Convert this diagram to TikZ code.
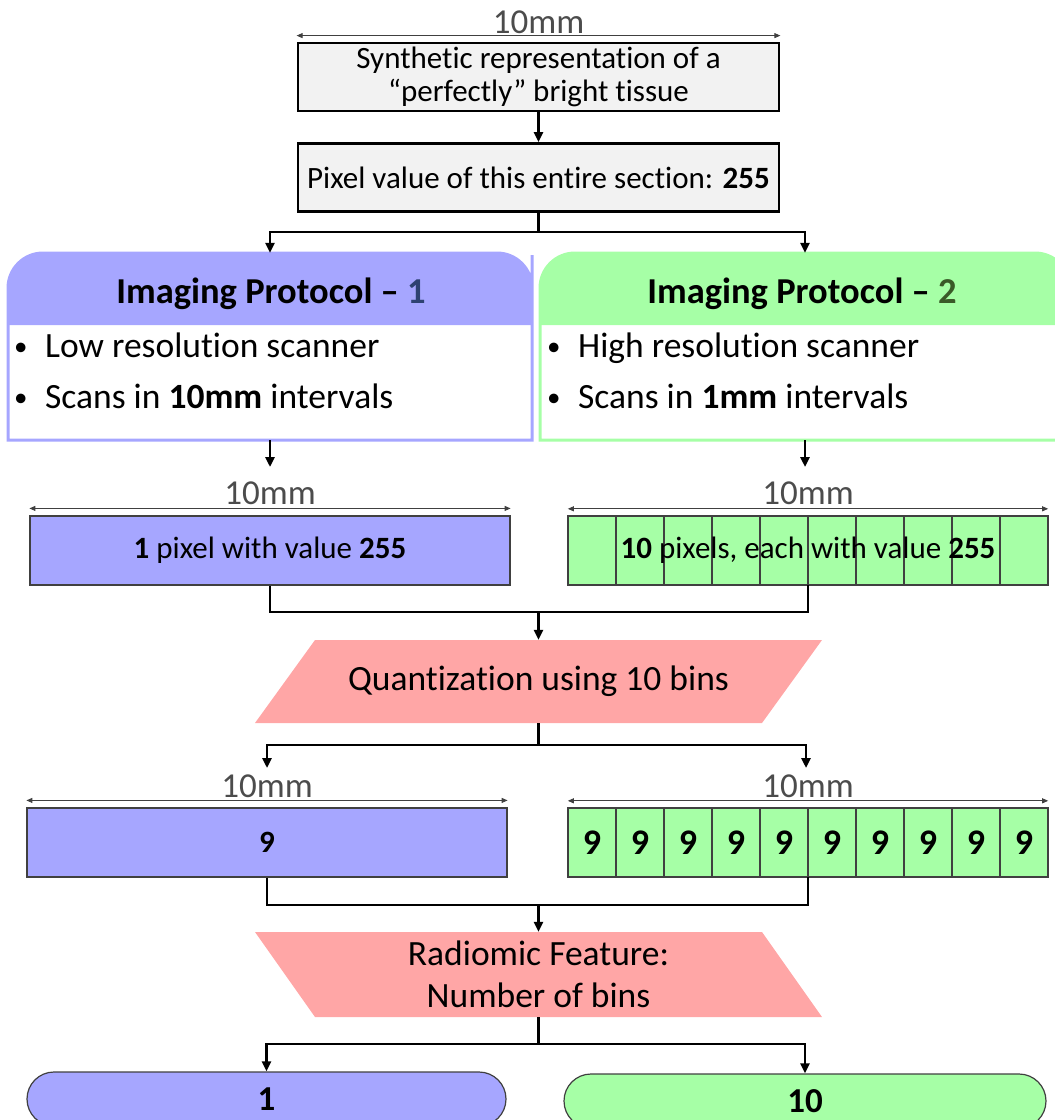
\documentclass[tikz,border=0pt]{standalone}
\usepackage{fontspec}
\setmainfont{Carlito}[Ligatures=NoCommon]
\usetikzlibrary{arrows.meta,calc}
\definecolor{lav}{HTML}{A6A6FF}
\definecolor{grn}{HTML}{A6FFA6}
\definecolor{pnk}{HTML}{FFA6A6}
\definecolor{paper}{HTML}{F2F2F2}
\definecolor{navy}{HTML}{2E4272}
\definecolor{leaf}{HTML}{3A5A28}
\newcommand\fsz[2]{\fontsize{#1}{#2}\selectfont}
\newcommand\dotmark{\makebox[31pt][l]{\raisebox{2pt}{\fsz{27}{27}•}}}

\begin{document}
\begin{tikzpicture}[x=1pt,y=-1pt,
  conn/.style={line width=2.6pt, -{Triangle[length=10pt,width=9pt]}},
  link/.style={line width=2.6pt},
  dimline/.style={line width=0.9pt, draw=black!75,
    {Triangle[length=6pt,width=5pt]}-{Triangle[length=6pt,width=5pt]}},
  dimtext/.style={font=\fsz{35}{38}, text=black!70, inner sep=0pt, anchor=base},
  graybox/.style={draw=black, line width=2.8pt, fill=paper, minimum width=481,
    minimum height=68, inner sep=0pt, align=center, font=\fsz{31}{33}},
  strip/.style={draw=black!75, line width=1.2pt, minimum width=480,
    minimum height=69, inner sep=0pt, font=\fsz{31}{36}},
  cell/.style={draw=black!75, line width=1.2pt, fill=grn, minimum width=48,
    minimum height=69, inner sep=0pt, font=\fsz{36}{40}\bfseries},
  anchorbox/.style={inner sep=0pt, minimum height=69, minimum width=480},
  title/.style={font=\fsz{36.5}{40}\bfseries, anchor=base, inner sep=0pt},
  bullet/.style={font=\fsz{35.5}{40}, anchor=base west, inner sep=0pt},
  outcome/.style={draw=black!75, line width=1.2pt, rounded corners=27,
    minimum height=54, inner sep=0pt, font=\fsz{35}{40}\bfseries},
  shaped/.style={inner sep=0pt, align=center, font=\fsz{35.5}{42}}
]
\useasboundingbox (0,0) rectangle (1055,1120);

% ---------- source tissue ----------
\node[graybox] (synth) at (538.5,77) {Synthetic representation of a\\“perfectly” bright tissue};
\draw[dimline] ([yshift=6pt]synth.north west) -- ([yshift=6pt]synth.north east);
\node[dimtext] (d0) at (538.5,33) {10mm};
\node[graybox] (sect) at (538.5,177.5) {Pixel value of this entire section: \textbf{255}};

% ---------- imaging protocols ----------
\fill[lav] (8,325) -- (8,290) [rounded corners=35] -- (8,253) -- (532,253) -- (532,290)
  [sharp corners] -- (532,325) -- cycle;
\draw[lav, line width=3pt] (8,440) -- (8,290) [rounded corners=35] -- (8,253) -- (532,253)
  -- (532,290) [sharp corners] -- (532,440) -- cycle;
\node[inner sep=0pt, minimum width=524, minimum height=187] (p1) at (270,346.5) {};
\node[title] (p1t) at (271,303) {Imaging Protocol – \textcolor{navy}{1}};
\node[bullet] (p1a) at (14,357) {\dotmark Low resolution scanner};
\node[bullet] (p1b) at (14,408) {\dotmark Scans in \textbf{10mm} intervals};

\fill[grn] (540,325) -- (540,290) [rounded corners=35] -- (540,253) -- (1070,253) -- (1070,290)
  [sharp corners] -- (1070,325) -- cycle;
\draw[grn, line width=3pt] (540,440) -- (540,290) [rounded corners=35] -- (540,253) -- (1070,253)
  -- (1070,290) [sharp corners] -- (1070,440) -- cycle;
\node[inner sep=0pt, minimum width=530, minimum height=187] (p2) at (805,346.5) {};
\node[title] (p2t) at (802,303) {Imaging Protocol – \textcolor{leaf}{2}};
\node[bullet] (p2a) at (547,357) {\dotmark High resolution scanner};
\node[bullet] (p2b) at (547,408) {\dotmark Scans in \textbf{1mm} intervals};

% ---------- acquired pixels ----------
\node[strip, fill=lav] (pix1) at (270,550.5) {\textbf{1} pixel with value \textbf{255}};
\draw[dimline] ([yshift=7pt]pix1.north west) -- ([yshift=7pt]pix1.north east);
\node[dimtext] (d1) at (270,504) {10mm};

\foreach \i in {0,...,9}
  \node[cell] (c\i) at (592+48*\i,550.5) {};
\node[anchorbox, font=\fsz{31}{36}] (pix2) at (808,550.5) {\textbf{10} pixels, each with value \textbf{255}};
\draw[dimline] ([yshift=7pt]pix2.north west) -- ([yshift=7pt]pix2.north east);
\node[dimtext] (d2) at (808,504) {10mm};

% ---------- quantization ----------
\fill[pnk] (315,640) -- (822,640) -- (762,723) -- (255,723) -- cycle;
\node[shaped, minimum width=447, minimum height=83] (quant) at (538.5,681.5) {Quantization using 10 bins};

% ---------- quantized pixels ----------
\node[strip, fill=lav, font=\fsz{31}{36}\bfseries] (nine1) at (267,842.5) {9};
\draw[dimline] ([yshift=7pt]nine1.north west) -- ([yshift=7pt]nine1.north east);
\node[dimtext] (d3) at (267,797) {10mm};

\foreach \i in {0,...,9}
  \node[cell] (n\i) at (592+48*\i,842.5) {9};
\node[anchorbox] (nine2) at (808,842.5) {};
\draw[dimline] ([yshift=7pt]nine2.north west) -- ([yshift=7pt]nine2.north east);
\node[dimtext] (d4) at (808,797) {10mm};

% ---------- radiomic feature ----------
\fill[pnk] (255,932) -- (762,932) -- (822,1017) -- (315,1017) -- cycle;
\node[shaped, minimum width=447, minimum height=85] (rad) at (538.5,974.5) {Radiomic Feature:\\Number of bins};

\node[outcome, fill=lav, minimum width=479] (out1) at (266.5,1099) {1};
\node[outcome, fill=grn, minimum width=482] (out2) at (805,1101) {10};

% ---------- connectors ----------
\coordinate (split1) at (538.5,232);
\coordinate (t1) at (270,467);
\coordinate (t2) at (805,467);
\coordinate (m1) at (538.5,612);
\coordinate (split2) at (538.5,745);
\coordinate (t3) at (267,768);
\coordinate (t4) at (806,768);
\coordinate (m2) at (538.5,905);
\coordinate (split3) at (538.5,1044);

\draw[conn] (synth) -- (sect);
\draw[conn] (sect.south) -- (split1) -| (p1.north);
\draw[conn] (split1) -| (p2.north);
\draw[conn] (p1.south) -- (t1);
\draw[conn] (p2.south) -- (t2);
\draw[link] (pix1.south) |- (m1) -| (pix2.south);
\draw[conn] (m1) -- (quant.north);
\draw[conn] (quant.south) -- (split2) -| (t3);
\draw[conn] (split2) -| (t4);
\draw[link] (nine1.south) |- (m2) -| (nine2.south);
\draw[conn] (m2) -- (rad.north);
\draw[conn] (rad.south) -- (split3) -| (out1.north);
\draw[conn] (split3) -| (out2.north);
\end{tikzpicture}
\end{document}
